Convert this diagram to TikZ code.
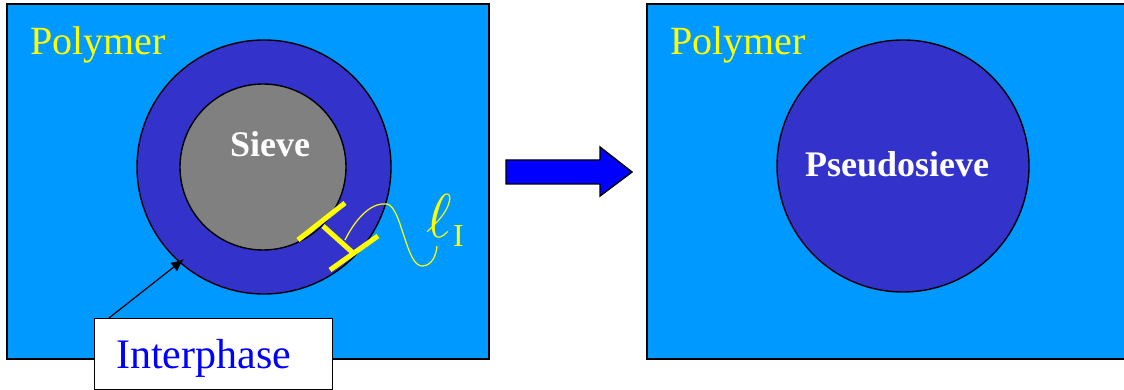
\documentclass[tikz,border=0pt]{standalone}
\usepackage{graphicx}
\usepackage{fontspec}
\setmainfont{Liberation Serif}
\usetikzlibrary{arrows.meta}
\definecolor{poly}{HTML}{0099FF}
\definecolor{ring}{HTML}{3333CC}
\definecolor{sievegray}{HTML}{808080}
\definecolor{ylw}{HTML}{FFFF00}
\definecolor{pureblue}{HTML}{0000FF}
\begin{document}
\begin{tikzpicture}[x=1pt,y=-1pt,
  panel/.style={draw=black,line width=2pt,fill=poly},
  disc/.style={draw=black,line width=1.4pt,circle,inner sep=0pt},
  polylabel/.style={text=ylw,font=\fontsize{40}{44}\selectfont,anchor=base west,inner sep=0pt},
  sievelabel/.style={text=white,font=\fontsize{36}{40}\selectfont\bfseries,anchor=base,inner sep=0pt},
  bar/.style={draw=ylw,line width=5pt},
  squiggle/.style={draw=ylw,line width=1.2pt}]
\useasboundingbox (0,0) rectangle (1124,390);
% left panel
\path[panel] (7,4) rectangle (489,359);
\node[disc,fill=ring,minimum size=254pt] (outer) at (264,167) {};
\node[disc,fill=sievegray,minimum size=166pt] (inner) at (263,167) {};
\node[sievelabel] (sieve) at (270,157) {Sieve};
\node[polylabel] (poly1) at (30,55) {Polymer};
% interphase thickness marker
\coordinate (b1a) at (298,240); \coordinate (b1b) at (345,203);
\coordinate (b2a) at (330,270); \coordinate (b2b) at (378,236);
\coordinate (c1) at (323,226); \coordinate (c2) at (352,252);
\draw[bar] (b1a) -- (b1b);
\draw[bar] (b2a) -- (b2b);
\draw[bar] (c1) -- (c2);
\coordinate (sq0) at (345,240);
\coordinate (sq1) at (387,204);
\coordinate (sq2) at (423,266);
\coordinate (sq3) at (437,246);
\draw[squiggle] (sq0) .. controls (358,214) and (374,202) .. (sq1)
  .. controls (402,207) and (406,268) .. (sq2)
  .. controls (432,265) and (436,256) .. (sq3);
\node[text=ylw,font=\Huge,anchor=base west,inner sep=0pt] (ell) at (426,237) {\scalebox{2.49}{$\ell$}};
\node[text=ylw,font=\fontsize{32}{36}\selectfont,anchor=base west,inner sep=0pt] (sub) at (453,246) {I};
% interphase label
\node[draw=black,line width=1.4pt,fill=white,minimum width=238pt,minimum height=71pt,inner sep=0pt,anchor=north west] (iph) at (94,318) {};
\node[text=pureblue,font=\fontsize{42}{46}\selectfont,anchor=base west,inner sep=0pt] (iphtxt) at (116,368) {Interphase};
\coordinate (arrstart) at (109,318);
\coordinate (arrend) at (184,259);
\draw[line width=1.2pt,-{Latex[length=13pt,width=11pt]}] (arrstart) -- (arrend);
% big arrow
\draw[fill=pureblue,draw=black,line width=1.4pt] (506,160) -- (600,160) -- (600,147) -- (632,172) -- (600,196) -- (600,184) -- (506,184) -- cycle;
% right panel
\path[panel] (647,4) rectangle (1130,359);
\node[disc,fill=ring,minimum size=252pt] (pseudo) at (903,166) {};
\node[sievelabel] (pslabel) at (897,177) {Pseudosieve};
\node[polylabel] (poly2) at (670,55) {Polymer};
\end{tikzpicture}
\end{document}
